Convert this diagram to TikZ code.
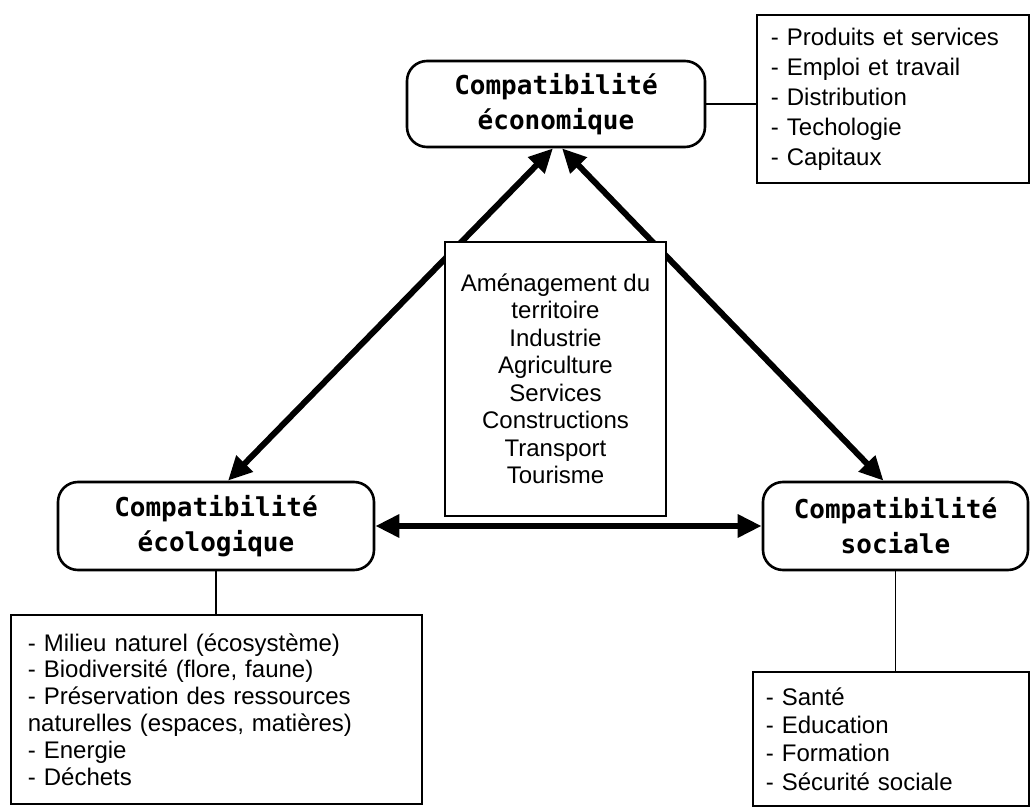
\documentclass[tikz,border=0pt]{standalone}
\usepackage{fontspec}
\setmainfont{Liberation Sans}
\newfontfamily\titrefont{DejaVu Sans Mono}
\usetikzlibrary{arrows.meta}

\begin{document}
\begin{tikzpicture}[x=0.5pt, y=-0.5pt,
  compat/.style={draw, rounded corners=10pt, line width=1.3pt, align=center, inner sep=0pt,
    font=\titrefont\bfseries\fontsize{13}{17.5}\selectfont},
  liste/.style={draw, line width=0.9pt, anchor=north west, align=left},
  fleche/.style={{Triangle[length=12pt,width=11pt]}-{Triangle[length=12pt,width=11pt]}, line width=3pt},
  lien/.style={line width=0.7pt}]
\useasboundingbox (0,0) rectangle (1030,808);

\node[compat, minimum width=149pt, minimum height=43pt] (eco)  at (556,104)   {Compatibilité\\économique};
\node[compat, minimum width=158pt, minimum height=44pt] (ecol) at (216,526)   {Compatibilité\\écologique};
\node[compat, minimum width=132.5pt, minimum height=44pt] (soc) at (895.5,526) {Compatibilité\\sociale};

\node[liste, text width=122pt, inner xsep=7pt, inner ysep=6.5pt, minimum height=84pt,
  font=\fontsize{12}{15}\selectfont] (listeco) at (756,14)
  {- Produits et services\\- Emploi et travail\\- Distribution\\- Techologie\\- Capitaux};
\node[liste, text width=188.5pt, inner xsep=8.5pt, inner ysep=8pt, minimum height=94.5pt,
  font=\fontsize{12}{13.4}\selectfont] (listecol) at (10,614)
  {- Milieu naturel (écosystème)\\- Biodiversité (flore, faune)\\- Préservation des ressources\\naturelles (espaces, matières)\\- Energie\\- Déchets};
\node[liste, text width=125pt, inner xsep=6.5pt, inner ysep=7.5pt, minimum height=67pt,
  font=\fontsize{12}{14.2}\selectfont] (listsoc) at (752,671)
  {- Santé\\- Education\\- Formation\\- Sécurité sociale};

\draw[lien] (eco.east) -- (eco.east -| listeco.west);
\draw[lien] (ecol.south) -- (ecol.south |- listecol.north);
\draw[lien] (soc.south) -- (soc.south |- listsoc.north);

\draw[fleche] ([xshift=-1.5pt]eco.south) -- ([xshift=6pt]ecol.north);
\draw[fleche] ([xshift=3pt]eco.south) -- ([xshift=-6pt]soc.north);
\draw[fleche] (ecol.east) -- (soc.west);

% activites au centre, par-dessus les fleches
\node[draw, line width=0.9pt, fill=white, align=center, minimum width=110.5pt, minimum height=137pt,
  font=\fontsize{12}{13.75}\selectfont] (activ) at (555.5,379)
  {Aménagement du\\territoire\\Industrie\\Agriculture\\Services\\Constructions\\Transport\\Tourisme};
\end{tikzpicture}
\end{document}
